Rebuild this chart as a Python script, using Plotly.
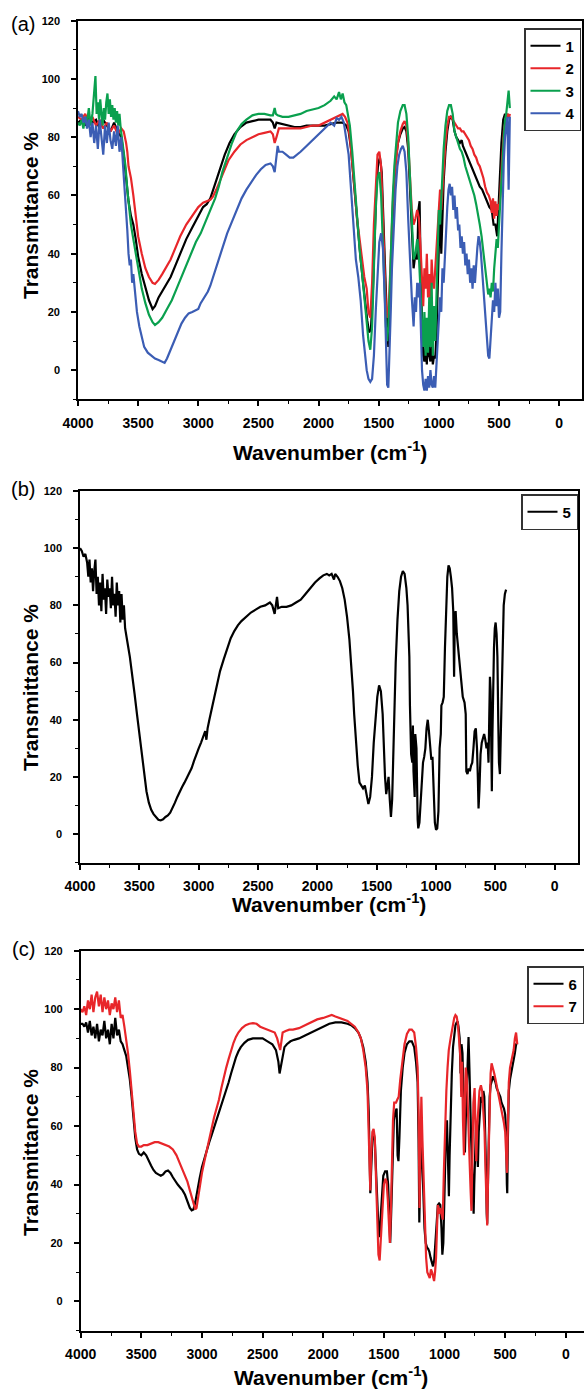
import plotly.graph_objects as go

# ---------------- data ----------------
# Panel (a)
wn_1 = [4000,3970,3940,3910,3880,3850,3820,3790,3760,3730,3700,3670,3640,3620,3600,3580,3560,3540,3520,3500,3470,3440,3410,3380,3360,3330,3300,3270,3230,3190,3150,3100,3050,3000,2960,2930,2900,2860,2820,2780,2740,2700,2650,2600,2550,2500,2450,2400,2380,2365,2350,2300,2250,2200,2150,2100,2050,2000,1950,1900,1850,1800,1770,1750,1730,1710,1690,1670,1650,1630,1610,1595,1580,1565,1550,1535,1520,1505,1490,1475,1460,1445,1430,1420,1410,1400,1390,1375,1360,1340,1320,1300,1285,1270,1255,1240,1225,1210,1195,1180,1170,1160,1150,1140,1130,1120,1110,1100,1090,1080,1070,1060,1050,1040,1030,1020,1010,1000,990,980,970,960,945,930,915,900,885,870,855,840,825,810,800,780,760,740,720,700,680,660,640,620,600,580,560,545,530,515,505,495,480,465,450,435,420,410]
t_1 = [85,86,84,87,85,86,83,86,84,82,85,82,80,74,66,58,53,50,45,39,33,28,24,21,22,25,27,29,32,36,40,45,49,53,56,57,59,64,69,74,78,81,83.5,85,85.5,86,86,86,85,83,85,84.5,84,83.5,83.5,84,84,84,84,84.5,85,85,84,82,76,66,56,47,38,30,22,17,13,14,25,45,62,71,73,68,50,30,15,8,15,30,45,62,72,78,81,83,83.5,82,76,62,45,35,40,38,55,58,30,12,5,3,8,2,15,5,3,10,2,5,4,12,30,45,58,40,55,65,75,82,86,87,86,82,80,79,78,79,77,75,73,71,69,67,65,63,62,60,58,56,55,50,50,46,55,65,78,86,88,86,88]

wn_2 = [4000,3970,3940,3910,3880,3850,3820,3790,3760,3730,3700,3670,3640,3620,3600,3590,3580,3560,3540,3520,3500,3470,3440,3410,3380,3360,3330,3300,3270,3230,3190,3150,3100,3050,3000,2960,2930,2900,2880,2850,2800,2750,2700,2650,2600,2550,2500,2450,2400,2380,2365,2350,2330,2300,2250,2200,2150,2100,2050,2000,1950,1900,1850,1800,1780,1760,1740,1720,1700,1680,1660,1640,1620,1600,1585,1570,1555,1540,1525,1510,1495,1480,1465,1450,1440,1430,1420,1410,1400,1385,1370,1355,1340,1320,1300,1285,1270,1255,1240,1225,1210,1195,1180,1165,1150,1140,1130,1120,1110,1100,1090,1080,1070,1060,1050,1040,1030,1020,1010,1000,990,980,970,960,945,930,915,900,885,870,855,840,825,810,795,780,765,750,735,720,705,690,675,660,645,630,615,600,585,570,560,550,540,530,520,510,500,490,475,460,445,430,415,410]
t_2 = [87,86,88,85,87,84,86,83,85,82,84,81,83,82,78,75,70,66,60,52,46,40,35,32,30,29.6,31,33,35,38,42,46,50,53,56,57.5,58,58.5,59.5,62,67,72,75,77.5,79,80,81,81.5,82,81,78,80,83,83,83,83,83,83.5,84,84,85,86,87,88,87,85,80,72,62,52,45,38,32,28,20,18,30,50,65,74,75,70,52,32,22,18,20,28,40,55,66,73,78,82,84.5,85.5,84,78,66,55,50,52,55,52,40,30,22,35,28,40,25,33,20,38,30,28,35,42,50,58,62,55,62,70,78,84,87,87,86,85,84,83,83,82,82,81,80,79,77,76,74,73,71,70,68,66,63,61,60,58,54,59,52,58,53,57,55,60,72,82,86,88,87,88]

wn_3 = [4000,3985,3970,3955,3940,3925,3910,3895,3880,3865,3855,3845,3835,3825,3815,3805,3795,3785,3775,3765,3755,3745,3735,3725,3715,3705,3695,3685,3675,3665,3655,3645,3635,3620,3605,3590,3575,3560,3540,3520,3500,3470,3440,3410,3380,3360,3330,3300,3260,3220,3180,3140,3100,3060,3020,2980,2950,2920,2890,2860,2830,2800,2760,2720,2680,2640,2600,2550,2500,2450,2400,2380,2365,2355,2340,2300,2250,2200,2150,2100,2050,2000,1950,1900,1870,1850,1830,1815,1800,1785,1770,1755,1740,1720,1700,1680,1660,1640,1620,1600,1585,1570,1555,1540,1525,1510,1495,1480,1465,1450,1440,1430,1420,1410,1400,1385,1370,1355,1340,1320,1300,1285,1270,1255,1240,1225,1210,1195,1180,1165,1150,1140,1130,1120,1110,1100,1090,1080,1070,1060,1050,1040,1030,1020,1010,1000,990,980,970,960,945,930,915,900,885,870,855,840,825,810,795,780,765,750,735,720,705,690,675,660,645,630,615,600,590,580,570,560,550,540,530,520,510,500,490,480,470,460,450,440,430,420,410]
t_3 = [85,84,86,83,87,85,90,84,88,95,101,88,92,86,93,88,84,90,86,92,95,88,93,87,91,86,90,85,89,84,88,83,80,76,70,62,55,50,45,40,34,28,23,19,16.5,15.5,16.5,18,21,24,28,32,36,40,44,47,50,53,56,59,63,68,73,78,82,84.5,86,87.5,88,88,87.5,87.5,90,88,87.5,87,87,87.5,88,89,89.5,90,91,92.5,94,93,95.5,93,95,92,91,88,84,75,64,52,42,34,26,18,10,7,15,35,55,66,68,60,42,25,15,10,15,25,40,58,70,79,85,89,91,91,88,80,65,48,38,40,45,38,25,15,8,20,5,18,6,25,8,30,5,22,10,25,40,55,50,60,68,76,84,89,91,91,88,82,80,78,76,75,73,70,68,66,64,62,60,57,54,50,46,40,34,30,26,28,25,30,27,35,40,45,42,50,60,68,74,80,86,88,92,96,90]

wn_4 = [4000,3985,3970,3955,3940,3925,3910,3895,3880,3865,3850,3835,3820,3805,3790,3775,3760,3745,3730,3715,3700,3685,3670,3655,3640,3625,3610,3600,3590,3580,3570,3560,3550,3540,3525,3510,3490,3470,3450,3420,3390,3360,3330,3300,3280,3260,3240,3220,3200,3170,3140,3110,3080,3050,3020,3000,2980,2950,2920,2900,2870,2840,2800,2760,2720,2680,2640,2600,2560,2520,2480,2440,2400,2380,2365,2355,2340,2330,2300,2270,2240,2210,2180,2150,2100,2050,2000,1950,1900,1870,1850,1830,1810,1790,1770,1750,1730,1710,1690,1670,1650,1630,1615,1600,1585,1570,1555,1540,1525,1510,1495,1480,1465,1450,1440,1430,1420,1410,1400,1390,1375,1360,1345,1330,1315,1300,1285,1270,1255,1240,1225,1210,1200,1190,1180,1170,1160,1150,1140,1130,1120,1110,1100,1090,1080,1070,1060,1050,1040,1030,1020,1010,1000,990,980,970,960,950,940,930,920,910,900,890,880,870,860,850,840,830,820,810,800,790,780,770,760,750,740,730,720,710,700,690,680,670,660,650,640,630,620,610,600,590,580,570,560,550,540,530,520,510,500,490,480,470,460,450,440,430,420,410]
t_4 = [89,87,88,85,87,83,86,80,85,78,84,76,86,80,74,84,78,85,79,76,82,77,84,75,80,70,62,55,48,40,36,38,30,33,25,20,15,11,8,6,5,4,3.5,3,2.5,4,6,8,10,13,16,18,19.5,20,20.5,21,23,25,27,29,33,37,42,47,51,55,59,62,64.5,67,69,70.5,71,70,68,72,77,75,75,74,73,73,74,75,77,79,81,83,85,84,86.5,86,87,85,80,74,62,48,38,32,24,12,5,0,-3,-4,-3,5,20,35,44,47,42,25,5,-5,-6,5,20,35,50,62,70,74,76,77,75,68,52,35,25,15,25,20,30,25,30,15,0,-5,-7,-3,-7,-2,-6,0,-5,-6,-2,-6,2,10,18,25,20,35,30,40,48,56,62,64,60,63,55,60,52,56,48,50,42,46,40,44,36,40,33,38,30,35,28,36,30,38,42,46,44,40,34,28,22,14,8,5,4,12,18,24,20,30,22,28,18,20,40,60,72,80,85,87,62,87]

# Panel (b)
wn_5 = [4000,3985,3970,3955,3940,3930,3920,3910,3900,3890,3880,3870,3860,3850,3840,3830,3820,3810,3800,3790,3780,3770,3760,3750,3740,3730,3720,3710,3700,3690,3680,3670,3660,3650,3640,3630,3620,3610,3600,3580,3560,3540,3520,3500,3480,3460,3440,3420,3400,3380,3360,3340,3320,3300,3280,3260,3240,3220,3200,3180,3160,3140,3120,3100,3080,3060,3040,3020,3000,2980,2960,2945,2935,2925,2910,2890,2870,2850,2820,2790,2760,2730,2700,2670,2640,2600,2560,2520,2480,2440,2400,2380,2360,2350,2340,2330,2300,2260,2220,2180,2140,2100,2060,2020,1980,1950,1920,1900,1880,1860,1850,1830,1810,1790,1770,1750,1730,1710,1700,1690,1675,1660,1645,1630,1615,1600,1585,1570,1555,1540,1525,1510,1495,1480,1465,1450,1440,1430,1420,1410,1400,1390,1380,1370,1360,1350,1340,1325,1310,1295,1280,1265,1250,1240,1230,1225,1220,1210,1200,1195,1190,1180,1175,1165,1155,1150,1140,1130,1120,1110,1100,1090,1080,1070,1060,1050,1040,1030,1020,1010,1000,990,980,970,960,955,945,935,925,915,905,895,885,875,865,855,848,842,835,825,815,805,795,785,775,760,750,745,735,725,715,705,695,685,675,665,655,648,642,635,625,615,605,595,585,575,565,558,552,546,540,535,530,525,518,512,505,498,490,483,476,470,462,455,448,440,430,420,410]
t_5 = [100,99,97,98,95,90,96,88,93,85,92,96,84,90,80,88,78,91,82,86,77,89,83,86,79,90,80,84,76,88,80,85,74,84,75,80,72,70,67,62,56,49,42,35,28,21,15,11,8.5,7,6,5,4.8,5.2,6,6.5,7.5,9,11,13,15,16.5,18,19.5,21,23,25.5,28,30,32,34,36,33,37,40,44,48,52,57,61,65,68.5,71,73,74.5,76,77.5,78.5,79.5,80,81,80,77,80,83,79,79.5,79.5,80,81,82,84,86,88,89.5,90.5,91,90.5,91,89,91,90,88.5,86,82,76,68,58,50,42,32,24,18,17,16,17,13,10.5,13,20,32,42,48,52,50,42,30,20,14,18,20,12,6,12,30,45,60,75,85,90,92,91,86,80,65,62,45,28,25,38,22,13,35,30,5,2,4,10,18,25,27,30,37,40,36,30,26,27,15,4,1.5,2,8,30,35,45,46,48,65,80,90,94,93,90,86,78,55,75,78,70,65,62,55,50,48,46,42,22,21,23,22,24,25,30,36,37,30,20,9,15,28,32,34,35,33,30,32,25,40,55,50,30,15,35,55,65,72,74,70,62,40,25,21,35,55,70,80,84,85.5]

# Panel (c)
wn_6 = [4000,3985,3970,3955,3940,3925,3910,3895,3880,3865,3850,3835,3820,3805,3790,3775,3760,3745,3730,3715,3700,3685,3670,3655,3640,3625,3610,3595,3580,3565,3550,3535,3520,3500,3480,3460,3440,3420,3400,3380,3360,3340,3320,3300,3280,3260,3240,3220,3200,3180,3160,3140,3120,3100,3085,3070,3055,3040,3020,3000,2980,2960,2940,2920,2900,2880,2860,2840,2820,2800,2780,2760,2740,2720,2700,2680,2650,2620,2580,2540,2500,2460,2420,2390,2370,2360,2350,2335,2320,2300,2270,2240,2200,2150,2100,2050,2000,1950,1900,1850,1800,1770,1740,1710,1690,1670,1650,1635,1625,1618,1612,1605,1595,1585,1575,1565,1555,1545,1537,1528,1518,1505,1490,1475,1465,1455,1448,1440,1430,1418,1405,1395,1387,1380,1372,1360,1345,1330,1310,1290,1270,1250,1235,1222,1214,1208,1200,1192,1185,1175,1165,1155,1145,1135,1125,1115,1105,1095,1085,1075,1065,1055,1045,1035,1025,1018,1010,1000,990,980,970,964,958,950,940,930,920,910,900,892,885,875,868,860,852,845,838,832,825,815,808,802,795,788,780,772,765,760,755,748,740,732,725,718,710,700,690,680,672,665,658,652,648,642,635,628,620,610,600,590,580,570,560,550,540,530,520,510,500,492,486,483,478,470,460,450,440,430,420,410,400]
t_6 = [95,95,94,95.5,92,96,91,94,90,95,89,93,91,96,90,93,88,95,90,97,91,93,89,88,86,84,80,76,70,62,56,52,50.5,50,51,50,48,46.5,45,44,43.5,43,43.5,44.5,44.8,44,42.5,41,40,39,38,36.5,34,32,31.2,31.5,34,38,42,46,49,52,54.5,57,59.5,62,64.5,67,69.5,72,75,78,81,83.5,85.5,87,88.5,89.5,90,90,90,89,88,86,82,78,80,84,87,88,89,89.5,90,91,92,93,94,95,95.5,95.5,95,94.5,93.5,92,90,87,82,75,65,45,37,45,55,58,55,45,32,25,22,28,38,43,44.5,44.5,40,28,20,30,48,62,65,66,50,48,56,72,80,85,88,89,89,87,82,75,55,27,45,60,50,35,25,20,18.5,18,17,15,13,12,14,20,28,33,33.5,33,25,16,20,40,55,62,48,36,50,65,78,87,92,94.5,95.5,95.8,94,90,78,88,85,70,58,51,62,75,88,90.5,80,65,55,45,35,30,40,55,60,52,46,58,66,70,68,72,70,60,45,30,26.6,40,60,70,74,76,77,76,75,73,72,71,70,68,67,66,64,58,40,37,55,72,76,78,80,82,85,88,88]

wn_7 = [4000,3985,3970,3955,3940,3925,3910,3895,3880,3865,3850,3835,3820,3805,3790,3775,3760,3745,3730,3715,3700,3685,3670,3655,3640,3625,3610,3595,3580,3565,3550,3535,3520,3500,3480,3450,3420,3390,3360,3330,3300,3270,3240,3210,3180,3150,3120,3100,3080,3065,3055,3045,3035,3020,3000,2980,2960,2940,2920,2900,2880,2860,2840,2820,2800,2780,2760,2740,2720,2700,2670,2640,2610,2580,2550,2520,2490,2460,2430,2400,2380,2365,2355,2345,2335,2310,2280,2250,2200,2150,2100,2050,2000,1960,1930,1900,1870,1840,1800,1770,1740,1710,1690,1670,1650,1635,1625,1618,1612,1605,1595,1585,1575,1565,1555,1545,1535,1525,1512,1500,1488,1478,1468,1458,1451,1443,1435,1425,1415,1400,1390,1378,1365,1350,1330,1310,1290,1270,1250,1235,1222,1214,1206,1200,1191,1182,1172,1162,1152,1142,1132,1122,1112,1102,1092,1086,1078,1070,1062,1055,1045,1035,1025,1015,1005,995,985,975,965,950,935,920,910,900,890,880,870,862,855,848,840,832,825,815,805,795,785,778,770,762,752,745,738,730,722,712,700,690,680,670,662,655,648,640,630,620,612,600,590,580,570,560,550,540,530,520,510,500,492,485,478,470,460,450,440,430,420,410,400]
t_7 = [100,99,101,98,103,100,105,99,104,106,101,105,99,104,100,103,98,102,100,104,99,103,97,98,94,90,85,79,72,64,58,54,53,53,53.5,53.5,54,54.5,54.5,54,53.5,53,52,50,47,44,41,38,35,32.5,31.5,32,35,39,44,48,52,56,60,63,66,69,73,77,80,83,86,88.5,90.5,92,93.5,94.5,95,95.2,95,94,93.5,93,92.5,92,90,87,86,89,92,92.5,93,93,93.5,94.5,95.5,96.5,97,97.5,98,97.5,97,96.5,96,95,94,92,90,86,80,72,60,45,38,50,58,59,56,42,25,16,14,22,35,40,42,41,35,25,20,30,50,62,68,68,69,70,76,82,88,91.5,93,93,92,87,80,65,32,50,70,55,40,25,15,10,9,8,11,10,8,7,10,15,25,33,30,32,30,28,45,60,72,80,86,90,94,97,98,97.5,95,90,84,70,82,62,50,70,80,76,60,50,38,31,50,68,73,55,48,60,68,72,74,72,65,58,45,30,26,45,65,78,81.5,80,78,76,74,72,70,67,65,63,61,58,52,44,60,75,80,82,83,86,90,92,88]

# ---------------- layout helpers (pixel geometry of the reference) ----------------
W, H = 584, 1389
def px(x):
    return x / W
def py(y):
    return 1 - y / H

BLACK = "#000000"
RED = "#e8262a"
GREEN = "#0aa04e"
BLUE = "#3b5db4"

fig = go.Figure()
def add(x, y, name, color, xa, ya, leg):
    fig.add_trace(go.Scatter(x=x, y=y, name=name, mode="lines",
                             line=dict(color=color, width=2.2),
                             xaxis=xa, yaxis=ya, legend=leg))

add(wn_1, t_1, "1", BLACK, "x", "y", "legend")
add(wn_2, t_2, "2", RED, "x", "y", "legend")
add(wn_3, t_3, "3", GREEN, "x", "y", "legend")
add(wn_4, t_4, "4", BLUE, "x", "y", "legend")
add(wn_5, t_5, "5", BLACK, "x2", "y2", "legend2")
add(wn_6, t_6, "6", BLACK, "x3", "y3", "legend3")
add(wn_7, t_7, "7", RED, "x3", "y3", "legend3")

FONT = "Liberation Sans"
xtick_font = dict(family=FONT, size=14, color="black", weight="bold")
ytick_font = dict(family=FONT, size=11, color="black", weight="bold")

def xaxis(domain, rng, anchor):
    return dict(domain=domain, range=rng, anchor=anchor, showline=True, mirror=True,
                linecolor="black", linewidth=1.6, showgrid=False, zeroline=False,
                ticks="outside", ticklen=5, tickwidth=1.5, tickcolor="black",
                tick0=0, dtick=500, tickfont=xtick_font, ticklabelstandoff=5,
                minor=dict(ticks="outside", ticklen=3, tickwidth=1.3, tickcolor="black", dtick=250, showgrid=False))

def yaxis(domain, anchor):
    return dict(domain=domain, range=[-10, 120], anchor=anchor, showline=True, mirror=True,
                linecolor="black", linewidth=1.6, showgrid=False, zeroline=False,
                ticks="outside", ticklen=5, tickwidth=1.5, tickcolor="black",
                tick0=0, dtick=20, tickfont=ytick_font, ticklabelstandoff=9,
                minor=dict(ticks="outside", ticklen=3, tickwidth=1.3, tickcolor="black", dtick=10, showgrid=False))

# plot rectangles (pixels): (left, right, top, bottom)
A = (78, 582, 20.7, 399.3)
B = (80, 578, 491, 862.7)
C = (80.7, 584, 950.7, 1330.7)

fig.update_layout(
    width=W, height=H, margin=dict(l=0, r=0, t=0, b=0, autoexpand=False),
    paper_bgcolor="white", plot_bgcolor="white", showlegend=True,
    xaxis=xaxis([px(A[0]), px(A[1])], [4000, -190], "y"),
    yaxis=yaxis([py(A[3]), py(A[2])], "x"),
    xaxis2=xaxis([px(B[0]), px(B[1])], [4000, -196], "y2"),
    yaxis2=yaxis([py(B[3]), py(B[2])], "x2"),
    xaxis3=xaxis([px(C[0]), min(1.0, px(C[1]))], [4000, -150], "y3"),
    yaxis3=yaxis([py(C[3]), py(C[2])], "x3"),
)

leg_common = dict(xanchor="right", yanchor="top", bgcolor="white", bordercolor="#333",
                  borderwidth=1.5, font=dict(family=FONT, size=15, color="black", weight="bold"),
                  tracegroupgap=0, itemwidth=30)
fig.update_layout(
    legend=dict(x=px(581), y=py(28), **leg_common),
    legend2=dict(x=px(578), y=py(494), **leg_common),
    legend3=dict(x=px(584), y=py(966), **leg_common),
)

title_font = dict(family=FONT, size=21, color="black", weight="bold")
label_font = dict(family=FONT, size=20, color="black")
annots = []
for (lbl, cy, ytc) in [("(a)", 24, 216), ("(b)", 489, 688), ("(c)", 949, 1153)]:
    annots.append(dict(text=lbl, x=px(23), y=py(cy), xref="paper", yref="paper",
                       showarrow=False, font=label_font, xanchor="center", yanchor="middle"))
    annots.append(dict(text="Transmittance %", x=px(30), y=py(ytc), xref="paper", yref="paper",
                       showarrow=False, font=title_font, textangle=-90, xanchor="center", yanchor="middle"))
for (cx, cy) in [((A[0] + A[1]) / 2, 451), ((B[0] + B[1]) / 2, 903), ((C[0] + 582) / 2, 1376)]:
    annots.append(dict(text="Wavenumber (cm<sup>-1</sup>)", x=px(cx), y=py(cy), xref="paper", yref="paper",
                       showarrow=False, font=title_font, xanchor="center", yanchor="middle"))
fig.update_layout(annotations=annots)

fig.write_html("out.html", config={"displayModeBar": False},
               post_script="document.body.style.margin='0px';document.body.style.overflow='hidden';")
